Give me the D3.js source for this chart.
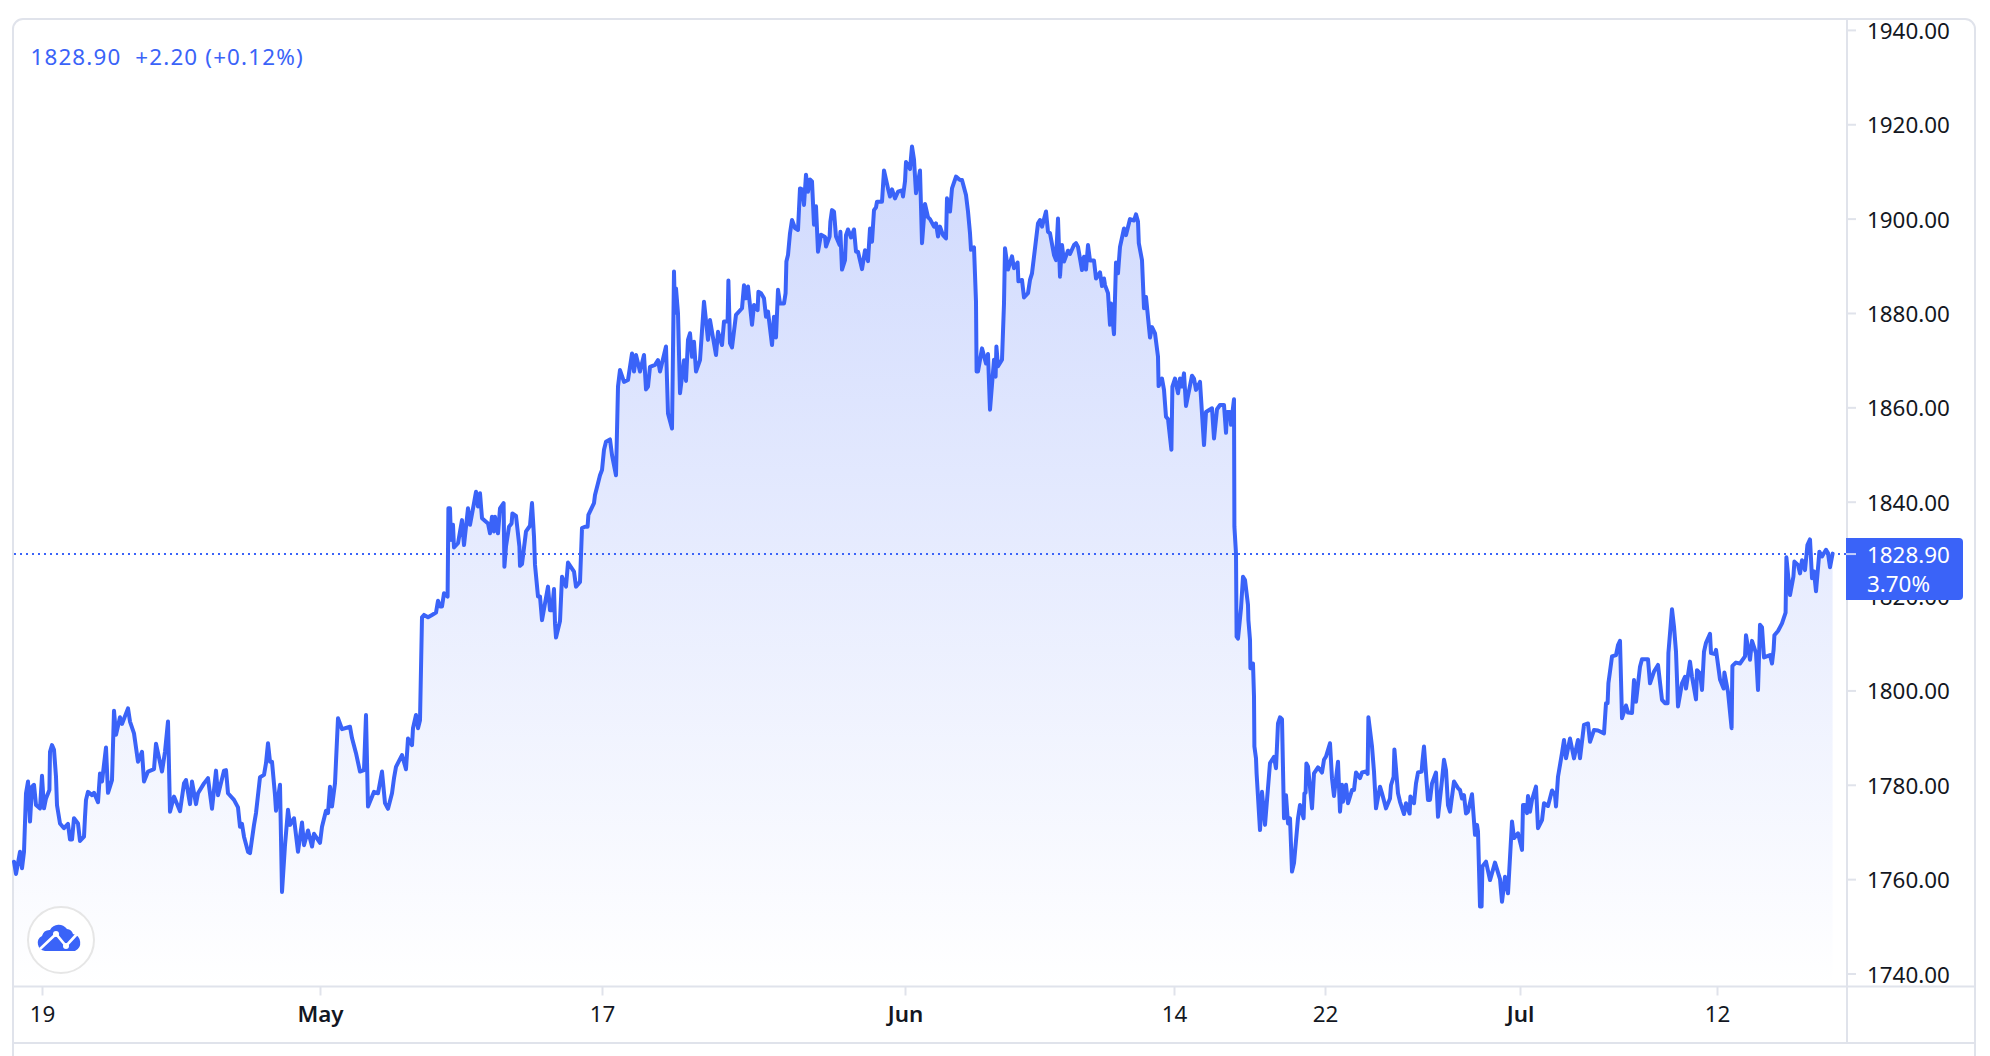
<!DOCTYPE html>
<html><head><meta charset="utf-8">
<script src="https://cdn.jsdelivr.net/npm/d3@7/dist/d3.min.js"></script>
<style>html,body{margin:0;padding:0;background:#fff;overflow:hidden}svg{display:block}text{font-family:"Noto Sans",sans-serif}</style>
</head><body><svg id="c" width="1990" height="1056"></svg>
<script>
const aprilTrace=[[0,1763.7],[1,1761.1],[3,1765.8],[4,1762.3],[5,1765.8],[6,1778.2],[7,1780.7],[8,1772.2],[9,1779.6],[10,1780],[11,1775.7],[13,1775],[14,1781.9],[15,1775],[16,1777.1],[17.7,1778.9],[18,1787],[19,1788.4],[20,1787.4],[21,1781.7],[21.5,1775.7],[23,1771.8],[25,1770.8],[27,1771.7],[28,1768.4],[29,1768.4],[30,1772.9],[32,1771.8],[33,1768.1],[35,1769],[35.5,1773.2],[36,1776.8],[37,1778.5],[39,1777.8],[40,1778.3],[42,1776.3],[43,1782.4],[44,1780.7],[46,1787.9],[47,1778.3],[49,1781],[50,1795.7],[51,1790.6],[53,1794.3],[54,1792.9],[57,1796.2],[58,1793.4],[60,1790.9],[62,1784.9],[64,1787],[65,1780.7],[67,1782.8],[70,1783.3],[71,1788.7],[74,1782.8],[75.5,1787],[77,1793.4],[78,1774.3],[80,1777.5],[83,1774.4],[85,1780.3],[86,1781],[88,1775.9],[89,1780.7],[91,1775.9],[92,1778.2],[95,1780.3],[97,1781.4],[99,1774.9],[101,1783],[102,1777.8],[105,1783],[106,1783.1],[107,1778.2],[110,1776.8],[112,1775.2],[113,1771.1],[114,1771.7],[115,1769],[117,1765.8],[118,1765.5],[120,1771.5],[121,1774],[123,1781.6],[125,1782.1],[126,1784.6],[127,1788.8],[128,1784.9],[129,1784.9],[130.5,1777.8],[131,1774.5],[133,1780],[134,1757.3],[135.5,1767.2],[137,1774.7],[138,1771.5],[140,1772.9],[142,1765.8],[144,1772],[145,1767.2],[147,1770.3],[149,1766.9],[150,1769.6],[153,1767.7]];
const mayTrace=[[154,1771.1],[156,1774.5],[157,1774],[158,1779.6],[159,1775.4],[160.5,1780.3],[162,1794.1],[164,1791.8],[168,1792.3],[169,1789.9],[171,1786.7],[173,1782.8],[175,1783.1],[176,1794.8],[177,1775.4],[180,1778.5],[182,1778.2],[184,1782.8],[185.5,1776.1],[187,1774.9],[189,1778.2],[190,1781.4],[191,1783.8],[194,1786.3],[196,1783.3],[197,1789.8],[199,1788.4],[199.5,1792],[201,1794.8],[202,1792],[203,1793.7],[204,1815.5],[205,1816],[207,1815.5],[209,1816],[211,1816.5],[212,1819],[213,1817.8],[214,1817.8],[215,1820.6],[216.8,1819.9],[217.2,1838.6],[218,1838.6],[218.5,1831.9],[219.5,1835.1],[220,1830.3],[222,1831.2],[224,1836.1],[225,1830.8],[227,1838.6],[228,1835.1],[230,1839.7],[231,1842.1],[232,1839],[233,1841.8],[234,1836.5],[237,1835.4],[238,1833.3],[239,1836.8],[240,1833.7],[240.5,1836.8],[242,1833.3],[243,1838.6],[244.8,1839.7],[245.2,1826.2],[246,1830.5],[247.5,1834.7],[248.8,1835.4],[249.2,1837.5],[251,1837],[252.7,1830.5],[253,1826.4],[254,1826.8],[256,1833.7],[258,1834.9],[259,1839.7],[260,1832.6],[260.5,1826.6],[262,1819.9],[263,1819.9],[264,1814.9],[267,1822],[268,1817],[269,1817],[270,1821.5],[270.5,1814.2],[271,1811.2],[273,1814.7],[274,1824.1],[276,1822],[277,1827.1],[280,1825.2],[281,1822],[283,1823],[284,1834.4],[285.5,1834.7],[286.8,1834.7],[287.2,1837.2],[290,1839.7],[290.5,1841.4],[292,1843.9],[293,1845.6],[294,1846.7],[295,1851],[296,1852.7],[298,1853.2],[299,1849.9],[301,1845.6],[302,1864.4],[303,1867.9],[305,1865.4],[307,1865.8],[309,1871.4],[310,1867.6],[311,1871.1],[313,1867.6],[315,1871.1],[316,1863.8],[317,1864.4],[318,1868.6],[320.5,1869],[322,1870],[323,1867.6],[326,1872.9],[327,1858.7],[329,1855.5],[330,1888.8],[330.5,1880],[331,1885.2],[332,1879.9],[333,1863],[335,1870],[336,1865.6],[337,1874.3],[338,1875.7],[339,1870.7],[340,1873.9],[341,1867.6],[343,1870],[345,1882.4],[347,1874.3],[348,1878.5],[351,1871.1],[352,1876],[354,1873.2],[355,1878.2],[356.8,1878.2],[357.2,1886.9],[358,1873.6],[359,1872.7],[361,1879.6],[364,1881],[365,1885.9],[366,1883.1],[367,1885.6],[369,1877.5],[370,1881.7],[371.8,1880.6],[372.2,1884.5],[373.5,1884.2],[375,1883.1],[376,1879.2],[377,1880.3],[379,1873.2],[380,1879.2],[381,1874.8],[382,1884.9],[383,1882],[385,1882],[385.8,1884.2],[386.2,1890.9],[387,1892.3],[388,1896.9],[389,1899.7],[390.5,1898],[392,1897.6],[393,1906.4],[394,1906.2],[395,1902.9],[396,1909.3],[397,1905.7],[398,1908.3],[399,1907.9],[400,1898.7],[401,1902.6],[402,1893],[403.5,1896.6],[405.5,1896.1],[406,1894.1],[407.8,1896.2],[408.2,1899.4],[409,1901.8],[410,1901.5],[411,1896.2],[412.8,1894.4],[413.2,1897.2],[414,1889.2],[415.5,1891.2],[416,1896.5],[417,1897.7],[418.5,1896],[420,1897.7],[421,1893],[422,1893],[424,1889.3],[425.5,1893.3],[427,1891],[428,1897.9],[429,1895.1],[430,1901.8],[431,1902.4],[431.5,1903.6],[434,1903.6],[435,1910.2],[437,1906.4],[438,1904.7],[439,1906.2],[440.5,1904.3],[442,1905.7],[444,1906],[444.5,1904.7],[445.5,1907.9]];
const juneTrace=[[446,1912],[448,1910.5],[449,1915.3],[450,1912.5],[451,1905.4],[453,1910.2],[454,1894.8],[455.5,1903.1],[457,1900.3],[458,1899.9],[460,1898.3],[461,1899],[462,1896.2],[463,1898.3],[464.5,1896.5],[466,1895.8],[466.5,1904.3],[468,1901.5],[469,1906.4],[471,1908.9],[473,1908.2],[474,1908.2],[476,1905],[477,1901.5],[478,1896.9],[478.5,1893.4],[480,1893.9],[481,1882.4],[481.3,1867.6],[482,1867.6],[484,1872.5],[486,1869.3],[487,1871.3],[488,1859.5],[490,1870.1],[490.8,1866.5],[491.2,1872.9],[492,1868.7],[494,1870.1],[495,1882],[495.5,1893.7],[497,1889.2],[499,1892],[500,1889.5],[501.8,1890.7],[502.2,1886.7],[504,1887],[505,1883.3],[507,1884.2],[508,1887],[509,1888.4],[512,1899],[513,1899.7],[514,1898.3],[516,1901.5],[517,1897.2],[518,1896.9],[520,1892.3],[521,1891.2],[522,1900],[523,1887.7],[524,1894.4],[525,1890.9],[527,1893.2],[528,1892.5],[530,1894.4],[531,1894.8],[532,1894],[534,1889.1],[535,1891.9],[536,1889.2],[537,1894.4],[538,1891.1],[540,1891.1],[541,1887.3],[543,1888.6],[544,1885.7],[545,1887.3],[545.5,1885.9],[547,1884.2],[548,1877.5],[548.5,1882],[550,1875.5],[551,1890.7],[552,1888.4],[553,1894],[555,1897.9],[556,1896.5],[558,1899.9],[560,1899.6],[561,1900.9],[562,1899.4],[562.4,1894.8],[564,1891.2],[565,1881],[566,1883.4],[568,1874.8],[569,1877],[570.5,1875.7],[572,1870.7],[572.3,1864.5],[574,1866.1],[575,1863.7],[576,1858],[577,1857.5],[578.7,1851],[579.2,1864.4],[580.5,1866.1],[582,1863],[583,1866.1],[584,1864.4],[585,1867.2],[586,1860.3],[589,1866.7],[590,1866.1],[591,1863.7],[593,1865.4],[595,1852],[596,1859],[599,1859.8],[600,1853.4],[601.5,1859.6],[603,1860.5],[605,1860.5],[606,1854.6],[606.5,1859],[608,1859],[608.5,1856.3],[610,1861.7],[610.2,1834.7],[611,1829],[611.3,1811.4],[612,1811],[613.5,1817.4],[614.5,1824.1],[615.5,1823.4],[617,1818.1],[617.2,1814.9],[618,1810.7],[618.2,1804.7],[619.5,1805.7],[620,1798.7],[620.2,1788.1],[621,1785.6],[621.3,1782.4],[623,1770.4],[624,1778.5],[625.5,1771.5],[628,1784.6],[630,1785.9],[631,1783.5],[632,1793],[633,1794.3],[634,1793.9],[635,1772.9],[636,1777.8],[637,1771.8],[638,1772.9],[639,1761.6],[640,1763.4],[642,1772.9],[643,1775.7],[644.8,1772.9],[645.2,1778.2],[645.8,1778.3],[646.2,1784.5],[647,1783.9],[649,1775],[650,1782.4],[652,1783.7],[654,1782.6],[655,1785.3],[656,1786],[658,1788.8],[659,1781.4],[660,1777.6],[662,1784.9],[663,1774.3],[664,1780],[664.5,1776.4],[666,1780],[667,1776.1],[669,1778.9],[670,1778.9],[671,1782.6],[673,1781.4],[674,1782.6],[676,1782.8],[676.8,1782.3],[677.2,1794.3],[679,1788.1],[680,1782.8],[681,1775],[683,1779.6],[684,1778.2],[686,1775],[688,1777.1],[688.5,1779.9],[689.8,1781.7],[690.2,1787.5],[692,1778.2],[693,1776.4],[695,1773.8],[696,1776.1],[697.8,1773.9],[698.2,1777.5],[700,1776.1],[701,1780.3],[702,1782.6],[703.8,1782.8],[704.2,1784.9],[705,1788.1],[707,1776.8],[708,1776.8],[709,1780.3],[711,1782.6],[712,1773.2],[714,1781],[715,1785.3],[716,1783.1],[717,1775.7],[718,1774.3],[720,1780.7],[722,1779.3],[723,1778.9],[724,1777.1],[725,1777.8],[726,1773.9],[727,1774.3],[729,1778],[730.5,1769.4],[731.5,1771.5],[732,1770.1],[733,1754.2],[733.8,1754.2],[734.2,1762.7],[736,1763.7],[738,1759.8],[740.5,1763.5],[743,1760],[744,1755.2],[745.5,1760.5],[747,1757],[749,1772.2],[750,1768.7],[752,1769.7]];
const julyTrace=[[754,1766.2],[754.5,1775.7],[755.5,1775.7],[756.5,1774],[757,1777.6],[758,1774.3],[759,1776.8],[761,1779.6],[762,1770.8],[764,1772.5],[765,1776.1],[767,1775.5],[769,1778.8],[770.5,1777.8],[771,1775.4],[772,1781.7],[774,1786.7],[775,1789.5],[776,1785.6],[778,1789.8],[780,1785.6],[782,1789.5],[783,1785.6],[785,1792.7],[787,1793],[788,1789.1],[790,1791.6],[792,1791.5],[795,1790.9],[796,1797.3],[796.8,1797.3],[797.2,1801.5],[798,1804],[799,1807.2],[801,1807.5],[802,1809.6],[803,1810.5],[804,1794.1],[806,1796.8],[807,1795.3],[809,1795.2],[810,1802.2],[811,1797.6],[813,1805],[814,1806.6],[817,1806.6],[818,1801.5],[820,1804],[822,1805.4],[824,1798],[825.5,1797.3],[826.8,1797.3],[827.2,1807.9],[829,1817.2],[830,1813.5],[831,1808.2],[832,1796.6],[834,1801.5],[835.5,1802.9],[836,1800.4],[838,1806.1],[839,1802.9],[841,1798.1],[841.5,1804.3],[843,1803.6],[844,1800.1],[845,1808.2],[846,1810.1],[848,1812],[848.5,1807.9],[850.5,1807.7],[851,1808.6],[853,1802.3],[854.8,1800.4],[855.2,1803.8],[857,1799.7],[858.8,1792],[859.2,1805.2],[861,1805.9],[863,1805.7],[865.5,1807.2],[866,1811.7],[868,1806.5],[869,1810.5],[871,1807.9],[872,1800.1],[873,1813.9],[874,1813.4],[875,1807],[878,1807.5],[879,1805.7],[879.8,1808.6],[880.2,1811.7],[882,1812.6],[884,1814.2],[885.8,1816.5],[886.2,1828.2],[888,1820.2],[889.7,1824.1],[890.2,1827.3],[892,1826.6],[893,1824.8],[894,1827.6],[895.5,1825.5],[896.7,1830.8],[898,1832],[899,1823.8],[900,1825.2],[901,1821],[902.7,1829.4],[904,1828.4],[906,1829.8],[907,1829.1],[908,1826.1],[909.3,1829]];
const priceTicks=[1740,1760,1780,1800,1820,1840,1860,1880,1900,1920,1940];
const timeTicks=[14,153,294,445.5,580,655.5,753,851.5];
const timeLabels=["19","May","17","Jun","14","22","Jul","12"];
const monthLabels=["May","Jun","Jul"];
const lastPrice=1828.90;
const legendText="1828.90  +2.20 (+0.12%)";
const lastLabelLines=["1828.90","3.70%"];

const BLUE="#3a63f8",GRID="#e0e3eb",INK="#131722";
const plot={l:14,r:1847,t:20,b:986.5};
const series=[...aprilTrace,...mayTrace,...juneTrace,...julyTrace];
const x=d3.scaleLinear().domain([0,909]).range([14,1832]);
const y=d3.scaleLinear().domain([1740,1840]).range([973.5,501.7]);
const svg=d3.select("#c");
const defs=svg.append("defs");
const g=defs.append("linearGradient").attr("id","fade").attr("gradientUnits","userSpaceOnUse").attr("x1",0).attr("x2",0).attr("y1",y(d3.max(series,d=>d[1]))).attr("y2",plot.b);
g.append("stop").attr("offset",0).attr("stop-color",BLUE).attr("stop-opacity",.24);
g.append("stop").attr("offset",1).attr("stop-color",BLUE).attr("stop-opacity",0);

svg.append("path").attr("d",d3.area().x(d=>x(d[0])).y0(plot.b).y1(d=>y(d[1]))(series)).attr("fill","url(#fade)");

const ya=svg.append("g").attr("transform",`translate(${plot.r},0)`).call(d3.axisRight(y).tickValues(priceTicks).tickFormat(d3.format(".2f")).tickSize(9).tickPadding(11));
ya.select(".domain").remove();
ya.selectAll("line").attr("stroke",GRID).attr("stroke-width",2);
ya.selectAll("text").attr("fill",INK).attr("font-size",22.4).attr("dy","0.38em").attr("font-family",'"Noto Sans",sans-serif');
const xa=svg.append("g").attr("transform",`translate(0,${plot.b})`).call(d3.axisBottom(x).tickValues(timeTicks).tickFormat((d,i)=>timeLabels[i]).tickSize(9).tickPadding(11));
xa.select(".domain").remove();
xa.selectAll("line").attr("stroke",GRID).attr("stroke-width",2);
xa.selectAll("text").attr("fill",INK).attr("font-size",22.4).attr("font-family",'"Noto Sans",sans-serif').attr("font-weight",(d,i)=>monthLabels.includes(timeLabels[i])?600:400);

const fr=svg.append("g").attr("fill","none").attr("stroke",GRID).attr("stroke-width",2);
fr.append("path").attr("d","M13,1056V29a10,10 0 0 1 10,-10H1965a10,10 0 0 1 10,10V1056");
fr.append("path").attr("d",`M13,${plot.b}H1975M13,1043H1975M${plot.r},20V1043`);

svg.append("line").attr("x1",14).attr("x2",plot.r).attr("y1",y(lastPrice)).attr("y2",y(lastPrice)).attr("stroke",BLUE).attr("stroke-width",2).attr("stroke-dasharray","2 4");
svg.append("path").attr("d",d3.line().x(d=>x(d[0])).y(d=>y(d[1]))(series)).attr("fill","none").attr("stroke",BLUE).attr("stroke-width",4).attr("stroke-linejoin","round").attr("stroke-linecap","round");

svg.append("path").attr("d","M1846,538H1959a4,4 0 0 1 4,4V596a4,4 0 0 1 -4,4H1846Z").attr("fill",BLUE);
svg.append("line").attr("x1",1846).attr("x2",1856).attr("y1",y(lastPrice)).attr("y2",y(lastPrice)).attr("stroke","#c5d0fb").attr("stroke-width",2);
svg.selectAll(".tag").data(lastLabelLines).join("text").attr("class","tag").attr("x",1867).attr("y",(d,i)=>563+i*29).attr("fill","#fff").attr("font-size",22.4).text(d=>d);

svg.append("text").attr("x",30.5).attr("y",65).attr("fill",BLUE).attr("font-size",22.4).attr("letter-spacing",1.15).style("white-space","pre").text(legendText);

const lg=svg.append("g");
lg.append("circle").attr("cx",61).attr("cy",940).attr("r",33).attr("fill","#fff").attr("stroke","#e6e6e6").attr("stroke-width",2);
lg.append("path").attr("fill",BLUE).attr("d","M45,951 a8,8 0 0 1 -3,-15 a8,8 0 0 1 8,-6 a10,10 0 0 1 17,-1 a7,7 0 0 1 6,5 a9,9 0 0 1 2,17 Z");
lg.append("path").attr("fill","none").attr("stroke","#fff").attr("stroke-width",2.6).attr("d","M40,949 L56,934 L66,946 L77,934");
lg.selectAll(".n").data([[56,934],[66,946]]).join("circle").attr("cx",d=>d[0]).attr("cy",d=>d[1]).attr("r",3).attr("fill","#fff");
</script></body></html>
